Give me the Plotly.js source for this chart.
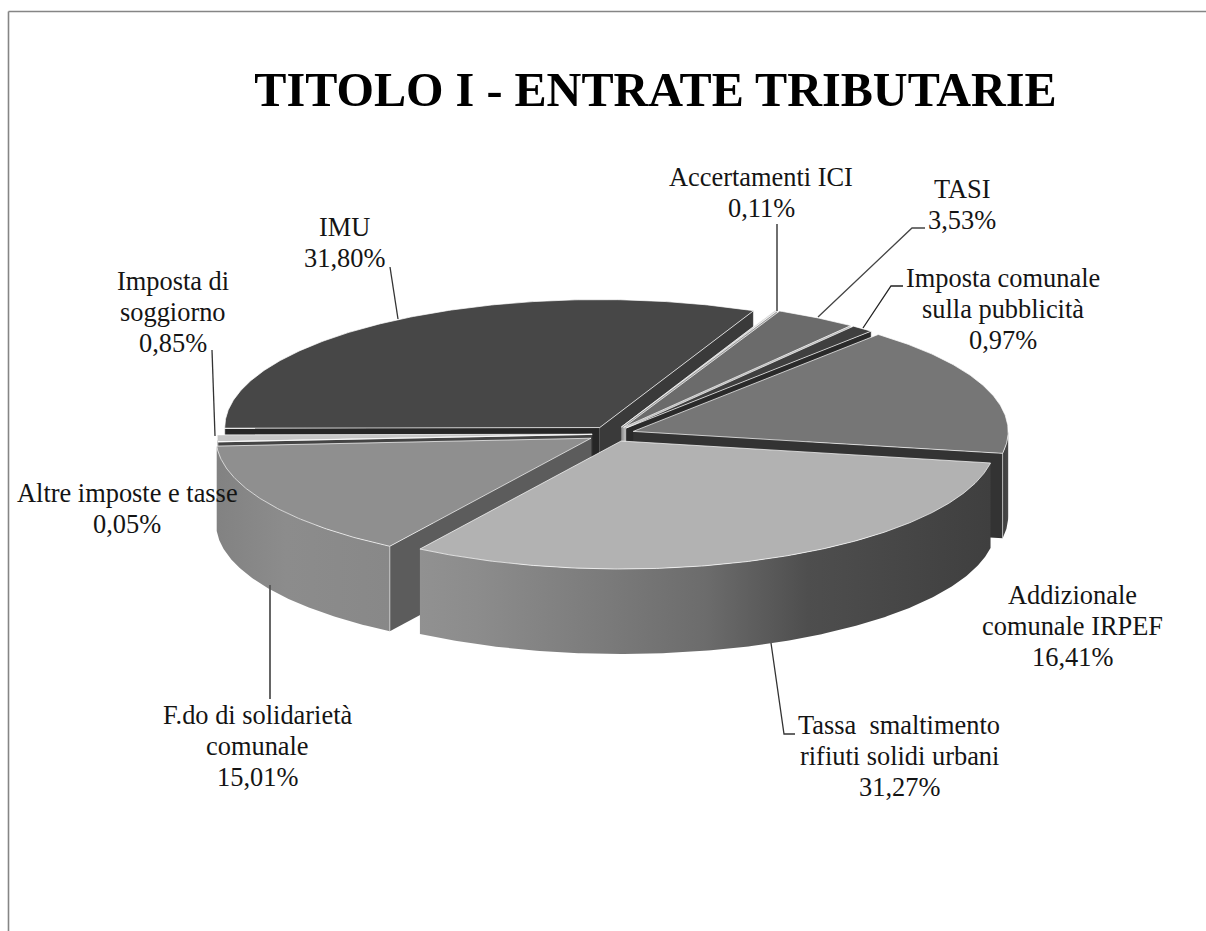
<!DOCTYPE html>
<html>
<head>
<meta charset="utf-8">
<script src="https://cdn.plot.ly/plotly-3.0.1.min.js"></script>
<style>html,body{margin:0;padding:0;background:#fff;overflow:hidden}#chart{width:1206px;height:931px}</style>
</head>
<body>
<div id="chart"></div>
<script>
// ---------- data ----------
const chartTitle = 'TITOLO I - ENTRATE TRIBUTARIE';
const categories = ['Accertamenti ICI', 'TASI', 'Imposta comunale sulla pubblicità', 'Addizionale comunale IRPEF',
  'Tassa smaltimento rifiuti solidi urbani', 'F.do di solidarietà comunale', 'Altre imposte e tasse', 'Imposta di soggiorno', 'IMU'];
const values = [0.11, 3.53, 0.97, 16.41, 31.27, 15.01, 0.05, 0.85, 31.80];
const labelLines = [['Accertamenti ICI'], ['TASI'], ['Imposta comunale', 'sulla pubblicità'], ['Addizionale', 'comunale IRPEF'],
  ['Tassa  smaltimento', 'rifiuti solidi urbani'], ['F.do di solidarietà', 'comunale'], ['Altre imposte e tasse'], ['Imposta di', 'soggiorno'], ['IMU']];

// ---------- styling and layout ----------
const W = 1206, H = 931;
const cx = 612, cy = 434, rx = 375, ry = 128, depth = 85, firstAngle = 24.2;
const explode = [.06, .06, .06, .06, .06, .065, .053, .053, .06];
const topColor = ['#d6d6d6', '#6b6b6b', '#3f3f3f', '#767676', '#b2b2b2', '#8f8f8f', '#6a6a6a', '#c6c6c6', '#474747'];
const cutStartColor = ['#999999', '#b5b5b5', '#2a2a2a', '#333333', '#5a5a5a', '#5c5c5c', '#444444', '#444444', '#262626'];
const cutEndColor = ['#999999', '#b5b5b5', '#2a2a2a', '#333333', '#5a5a5a', '#5c5c5c', '#444444', '#444444', '#3a3a3a'];
const wallScale = [
  null, null, null,
  [[0, '#3c3c3c'], [1, '#4a4a4a']],
  [[0, '#919191'], [.1, '#8c8c8c'], [.32, '#7b7b7b'], [.5, '#6c6c6c'], [.68, '#4e4e4e'], [1, '#3f3f3f']],
  [[0, '#828282'], [.4, '#8c8c8c'], [1, '#888888']],
  [[0, '#555555'], [1, '#555555']],
  [[0, '#555555'], [1, '#555555']],
  [[0, '#444444'], [1, '#444444']]
];
const paintOrder = [8, 0, 1, 2, 3, 7, 6, 5, 4];
const labelPos = [[761, 192], [962, 204], [1003, 309], [1072, 626], [899, 756], [257, 746], [127, 508], [173, 312], [344, 242]];
const lineStep = 31;
const leaders = [
  [[777, 224], [777, 311]],
  [[925, 228], [912, 228], [818, 317]],
  [[903, 286], [891, 286], [863, 328]],
  null,
  [[771, 643], [784, 734], [795, 734]],
  [[270, 585], [270, 699]],
  null,
  [[212, 350], [215, 436]],
  [[390, 267], [398, 319]]
];
const leaderColor = ['#222', '#444', '#222', '#222', '#333', '#555', '#222', '#333', '#333'];
const leaderWidth = [1.3, 1.3, 1.3, 1.3, 1.3, 1.8, 1.3, 1.3, 1.3];
const textFont = {family: '"Liberation Serif", "Times New Roman", serif', size: 26.4, color: '#141414'};

// ---------- geometry derived from the values ----------
const total = values.reduce((a, b) => a + b, 0);
let cursor = firstAngle;
const slices = values.map((v, i) => {
  const a0 = cursor, a1 = cursor + v / total * 360;
  cursor = a1;
  const mid = (a0 + a1) / 2 * Math.PI / 180;
  return {i, a0, a1, ox: cx + explode[i] * rx * Math.sin(mid), oy: cy - explode[i] * ry * Math.cos(mid)};
});
const pt = (s, a, dz = 0) => {
  const t = a * Math.PI / 180;
  return [s.ox + rx * Math.sin(t), s.oy - ry * Math.cos(t) + dz];
};
const arc = (s, a0, a1, dz = 0) => {
  const n = Math.max(2, Math.ceil(Math.abs(a1 - a0) * 2));
  const out = [];
  for (let k = 0; k <= n; k++) out.push(pt(s, a0 + (a1 - a0) * k / n, dz));
  return out;
};
const xs = p => p.map(q => q[0]);
const ys = p => p.map(q => q[1]);
const poly = (name, p, color, extra) => Object.assign({
  type: 'scatter', mode: 'lines', name, x: xs(p), y: ys(p), fill: 'toself', fillcolor: color,
  line: {width: 0, color: color}, hoverinfo: 'skip', showlegend: false
}, extra || {});
const stroke = (name, p, color, width) => ({
  type: 'scatter', mode: 'lines', name, x: xs(p), y: ys(p),
  line: {width, color}, hoverinfo: 'skip', showlegend: false
});

const traces = [];
paintOrder.forEach(idx => {
  const s = slices[idx], name = categories[idx];
  const apex = [s.ox, s.oy], apexLow = [s.ox, s.oy + depth];
  const sin0 = Math.sin(s.a0 * Math.PI / 180), sin1 = Math.sin(s.a1 * Math.PI / 180);
  // outer wall, only the part turned to the viewer
  const lo = Math.max(s.a0, 90), hi = Math.min(s.a1, 270);
  if (hi > lo && wallScale[idx]) {
    const p = arc(s, lo, hi).concat(arc(s, hi, lo, depth));
    p.push(p[0]);
    const c = wallScale[idx];
    const xx = xs(p);
    traces.push(poly(name + ' parete', p, c[0][1], {
      fillgradient: {type: 'horizontal', colorscale: c, start: Math.min(...xx), stop: Math.max(...xx)}
    }));
  }
  // cut faces, only the ones turned to the viewer
  [[s.a0, sin0 < 0, cutStartColor[idx]], [s.a1, sin1 > 0, cutEndColor[idx]]].forEach(([a, vis, col]) => {
    if (!vis) return;
    const e = pt(s, a), eLow = pt(s, a, depth);
    traces.push(poly(name + ' taglio', [apex, e, eLow, apexLow, apex], col));
    traces.push(stroke(name + ' spigolo', [e, eLow], 'rgba(255,255,255,0.55)', 1));
  });
  // top face
  const top = [apex].concat(arc(s, s.a0, s.a1)).concat([apex]);
  traces.push(poly(name, top, topColor[idx]));
  traces.push(stroke(name + ' bordo', top, 'rgba(255,255,255,0.7)', 1));
});
leaders.forEach((l, i) => {
  if (l) traces.push(stroke(categories[i] + ' linea', l, leaderColor[i], leaderWidth[i]));
});

const annotations = [];
values.forEach((v, i) => {
  const lines = labelLines[i].concat([v.toFixed(2).replace('.', ',') + '%']);
  lines.forEach((text, k) => annotations.push({
    xref: 'x', yref: 'y', x: labelPos[i][0], y: labelPos[i][1] + (k - (lines.length - 1) / 2) * lineStep,
    xanchor: 'center', yanchor: 'middle', text, showarrow: false, align: 'center', font: textFont
  }));
});

const layout = {
  width: W, height: H, margin: {l: 0, r: 0, t: 0, b: 0, pad: 0},
  paper_bgcolor: '#fff', plot_bgcolor: '#fff', showlegend: false, hovermode: false,
  title: {text: '<b>' + chartTitle + '</b>', x: 655.5 / W, xanchor: 'center', y: 1 - 89 / H, yanchor: 'middle',
    font: {family: textFont.family, size: 48.2, color: '#000'}},
  xaxis: {range: [0, W], visible: false, fixedrange: true},
  yaxis: {range: [H, 0], visible: false, fixedrange: true},
  annotations,
  shapes: [
    {type: 'line', xref: 'x', yref: 'y', x0: 8.5, x1: 8.5, y0: 11.5, y1: H, line: {color: '#858585', width: 1.6}},
    {type: 'line', xref: 'x', yref: 'y', x0: 8.5, x1: W, y0: 11.5, y1: 11.5, line: {color: '#858585', width: 1.6}}
  ]
};
Plotly.newPlot('chart', traces, layout, {displayModeBar: false, staticPlot: true});
</script>
</body>
</html>
